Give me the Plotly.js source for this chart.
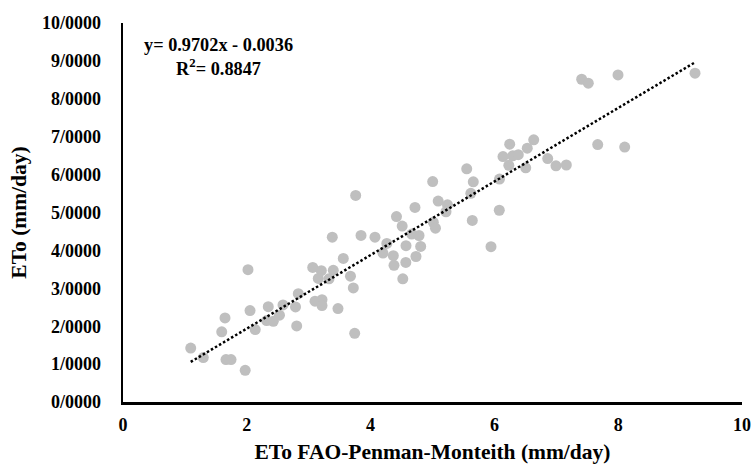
<!DOCTYPE html>
<html>
<head>
<meta charset="utf-8">
<script src="https://cdn.plot.ly/plotly-3.0.1.min.js"></script>
<style>html,body{margin:0;padding:0;background:#fff;}#chart{width:752px;height:464px;}</style>
</head>
<body>
<div id="chart"></div>
<script>
// ETo FAO-Penman-Monteith (mm/day)
var xFAO = [1.094,1.297,1.595,1.648,1.664,1.745,1.974,2.019,2.052,2.136,
            2.347,2.321,2.428,2.528,2.585,2.787,2.806,2.832,3.065,3.204,
            3.397,3.155,3.328,3.102,3.215,3.215,3.473,3.381,3.559,3.675,
            3.721,3.743,3.759,3.845,4.071,4.262,4.200,4.367,4.378,4.520,
            4.569,4.733,4.572,4.809,4.664,4.782,4.510,4.418,4.717,5.003,
            5.092,5.242,5.218,5.013,5.048,5.553,5.659,5.619,5.643,5.945,
            6.082,6.079,6.139,6.247,6.296,6.386,6.233,6.506,6.531,6.635,
            6.861,6.995,7.162,7.669,8.105,7.410,7.517,7.997,9.241];
// ETo (mm/day)
var yETo = [1.423,1.173,1.852,2.219,1.120,1.120,0.835,3.491,2.411,1.910,
            2.516,2.148,2.129,2.292,2.561,2.509,2.008,2.859,3.552,3.465,
            3.473,3.260,3.249,2.661,2.701,2.543,2.464,4.348,3.789,3.320,
            3.009,1.813,5.449,4.395,4.348,4.184,3.931,3.860,3.605,3.249,
            3.684,3.839,4.124,4.105,4.432,4.393,4.643,4.893,5.133,5.816,
            5.302,5.204,5.020,4.743,4.585,6.153,5.810,5.507,4.791,4.098,
            5.881,5.059,6.477,6.804,6.495,6.527,6.245,6.179,6.698,6.917,
            6.424,6.232,6.253,6.793,6.725,8.516,8.411,8.630,8.675];
// Linear trendline coefficients
var slope = 0.9702;
var intercept = -0.0036;
var r2 = 0.8847;
// Tick labels
var xTicks = [0,2,4,6,8,10];
var yTicks = [0,1,2,3,4,5,6,7,8,9,10];
var yTickText = ["0/0000","1/0000","2/0000","3/0000","4/0000","5/0000","6/0000","7/0000","8/0000","9/0000","10/0000"];

var xMin = Math.min.apply(null, xFAO), xMax = Math.max.apply(null, xFAO);
var trendX = [xMin, xMax];
var trendY = trendX.map(function(v){ return slope*v + intercept; });

var serif = "'Liberation Serif', 'Times New Roman', serif";

var traces = [
  {x: xFAO, y: yETo, type: 'scatter', mode: 'markers',
   marker: {color: '#BFBFBF', size: 11, line: {width: 0}}, hoverinfo: 'skip'},
  {x: trendX, y: trendY, type: 'scatter', mode: 'lines',
   line: {color: '#000000', width: 2.5, dash: '2.5px,2.2px'}, hoverinfo: 'skip'}
];

var layout = {
  width: 752, height: 464,
  margin: {l: 123, r: 10, t: 23, b: 62, pad: 0},
  paper_bgcolor: '#ffffff', plot_bgcolor: '#ffffff',
  showlegend: false,
  font: {family: serif, color: '#000000'},
  xaxis: {
    range: [0, 10], tickvals: xTicks, ticktext: xTicks.map(String),
    showgrid: false, zeroline: false, showline: true, linecolor: '#000000', linewidth: 2.5,
    ticks: '', ticklabelstandoff: 5,
    tickfont: {family: serif, size: 18, weight: 'bold', color: '#000'},
    title: {text: 'ETo FAO-Penman-Monteith (mm/day)', font: {family: serif, size: 21.5, weight: 'bold', color: '#000'}, standoff: 10}
  },
  yaxis: {
    range: [0, 10], tickvals: yTicks, ticktext: yTickText,
    showgrid: false, zeroline: false, showline: true, linecolor: '#000000', linewidth: 2.5,
    ticks: '', ticklabelstandoff: 16,
    tickfont: {family: serif, size: 18, weight: 'bold', color: '#000'},
    title: {text: 'ETo (mm/day)', font: {family: serif, size: 21.5, weight: 'bold', color: '#000'}, standoff: 10}
  },
  annotations: [{
    xref: 'paper', yref: 'paper', x: 0.155, y: 0.909, xanchor: 'center', yanchor: 'middle',
    text: 'y= ' + slope.toFixed(4) + 'x - ' + Math.abs(intercept).toFixed(4) + '<br>R<sup>2</sup>= ' + r2.toFixed(4),
    showarrow: false, align: 'center',
    font: {family: serif, size: 18.3, weight: 'bold', color: '#000'}
  }]
};

Plotly.newPlot('chart', traces, layout, {displayModeBar: false, staticPlot: true});
</script>
</body>
</html>
